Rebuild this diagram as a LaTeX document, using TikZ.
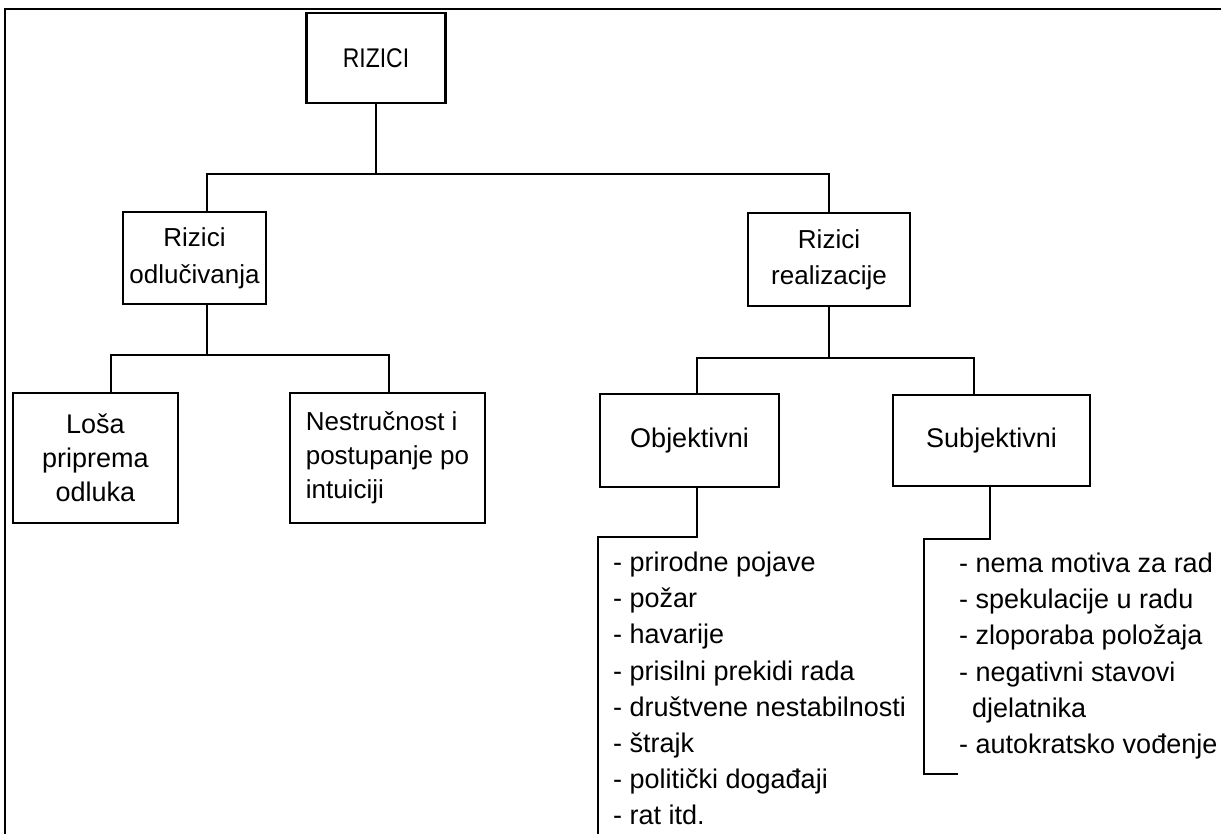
\documentclass[tikz,border=0pt]{standalone}
\usepackage{fontspec}
\setmainfont{Liberation Sans}
\newfontfamily\narrowsans{Liberation Sans}[FakeStretch=0.85]
\begin{document}
\begin{tikzpicture}[x=1pt,y=-1pt,
 box/.style={draw, line width=2.4pt, inner sep=0pt, align=center, font=\fontsize{27}{35}\selectfont},
 link/.style={line width=2.3pt},
 listtext/.style={anchor=north west, inner sep=0pt, align=left, font=\fontsize{27}{36.1}\selectfont}]
\useasboundingbox (0,0) rectangle (1221,834);
% frame
\draw[line width=2pt] (5,834) -- (5,9.5) -- (1221,9.5);
% boxes
\node[box, minimum width=139pt, minimum height=90pt, font=\narrowsans\fontsize{27}{30}\selectfont] (rizici) at (376,58) {RIZICI};
\node[box, minimum width=143pt, minimum height=92pt, font=\fontsize{26}{37}\selectfont] (odl) at (194.5,258) {Rizici\\odlučivanja};
\node[box, minimum width=162pt, minimum height=93pt, font=\fontsize{26}{36}\selectfont] (real) at (829,259.5) {Rizici\\realizacije};
\node[box, minimum width=165pt, minimum height=130pt, font=\fontsize{27}{34}\selectfont] (losa) at (95.5,458) {Loša\\priprema\\odluka};
\node[box, minimum width=195pt, minimum height=130pt, align=left, font=\fontsize{26}{34}\selectfont] (nes) at (387.5,458) {Nestručnost i\\postupanje po\\intuiciji};
\node[box, minimum width=179pt, minimum height=93pt] (obj) at (689.5,440.5) {Objektivni};
\node[box, minimum width=197pt, minimum height=91pt] (sub) at (991.5,440.5) {Subjektivni};
% junction levels
\coordinate (j1) at (376,174);
\coordinate (j2) at (0,355);
\coordinate (j3) at (0,358);
% connectors
\draw[link] (rizici.south) -- (rizici.south |- j1);
\draw[link] ([xshift=12.5pt]odl.north) |- (real.north |- j1) -- (real.north);
\draw[link] ([xshift=12.5pt]odl.south) -- ([xshift=12.5pt]odl.south |- j2);
\draw[link] ([xshift=15.5pt]losa.north) |- ([xshift=1.5pt]nes.north |- j2) -- ([xshift=1.5pt]nes.north);
\draw[link] (real.south) -- (real.south |- j3);
\draw[link] ([xshift=7.5pt]obj.north) |- ([xshift=-17.5pt]sub.north |- j3) -- ([xshift=-17.5pt]sub.north);
% brackets
\coordinate (ob) at (598,537);
\coordinate (obend) at (598,834);
\draw[link] ([xshift=7.5pt]obj.south) |- (ob) -- (obend);
\coordinate (sb) at (924,539);
\coordinate (sbend) at (924,774);
\coordinate (sbtip) at (958,774);
\draw[link] ([xshift=-1.5pt]sub.south) |- (sb) -- (sbend) -- (sbtip);
% lists
\node[listtext] (objlist) at (613,552) {- prirodne pojave\\- požar\\- havarije\\- prisilni prekidi rada\\- društvene nestabilnosti\\- štrajk\\- politički događaji\\- rat itd.};
\node[listtext] (sublist) at (959,553) {- nema motiva za rad\\- spekulacije u radu\\- zloporaba položaja\\- negativni stavovi\\\hspace*{13pt}djelatnika\\- autokratsko vođenje};
\end{tikzpicture}
\end{document}
